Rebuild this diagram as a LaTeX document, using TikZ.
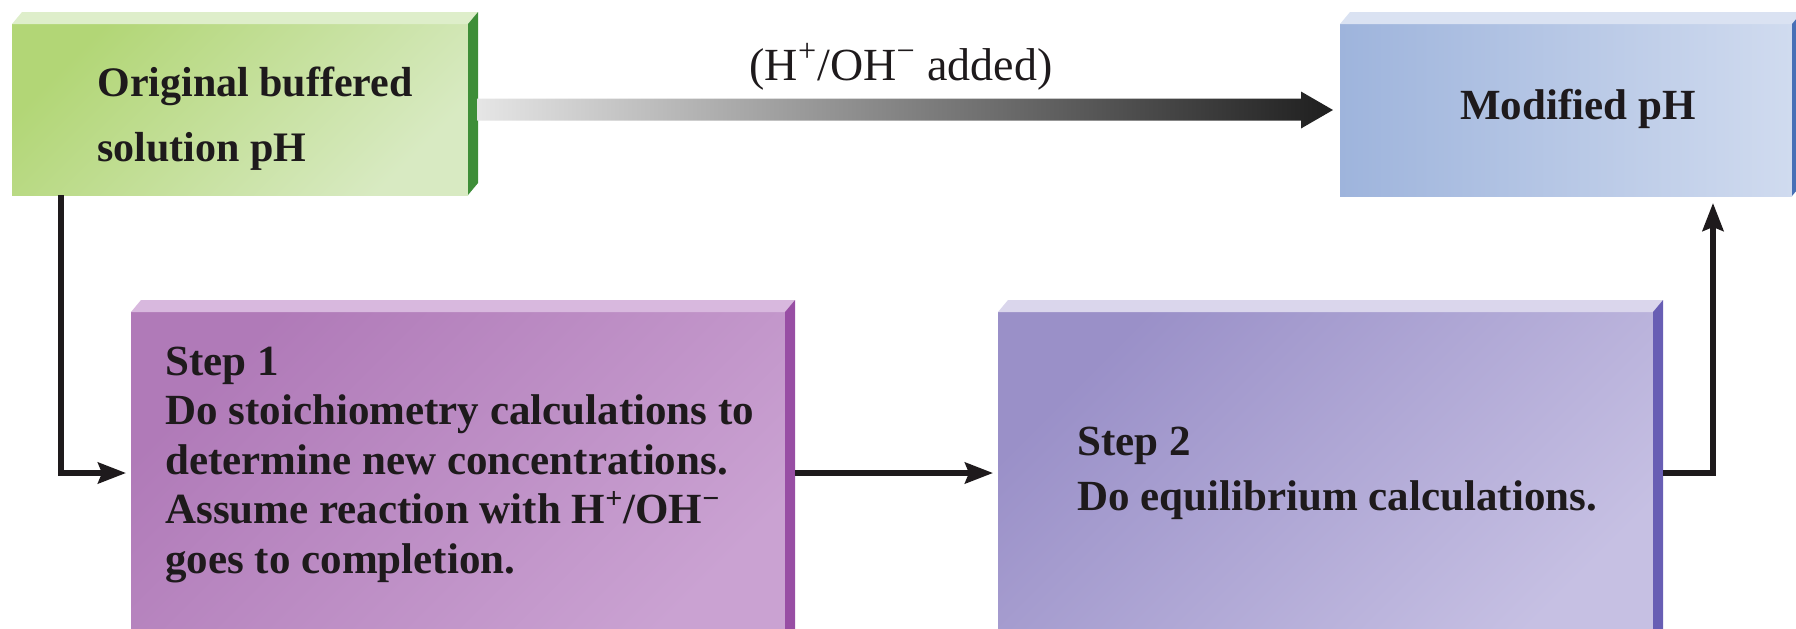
\documentclass[tikz,border=0pt]{standalone}
\usepackage{fontspec}
\setmainfont{Liberation Serif}
\usetikzlibrary{arrows.meta}
\definecolor{greenA}{RGB}{178,214,118}
\definecolor{greenB}{RGB}{216,234,194}
\definecolor{greenTop}{RGB}{222,238,202}
\definecolor{greenSide}{RGB}{62,142,56}
\definecolor{blueA}{RGB}{158,180,220}
\definecolor{blueB}{RGB}{208,219,239}
\definecolor{blueTop}{RGB}{218,226,242}
\definecolor{blueSide}{RGB}{72,112,182}
\definecolor{pinkA}{RGB}{176,122,184}
\definecolor{pinkB}{RGB}{202,162,210}
\definecolor{pinkTop}{RGB}{216,184,222}
\definecolor{pinkSide}{RGB}{152,78,164}
\definecolor{violetA}{RGB}{154,144,200}
\definecolor{violetB}{RGB}{198,192,227}
\definecolor{violetTop}{RGB}{218,214,236}
\definecolor{violetSide}{RGB}{104,94,180}
\definecolor{ink}{RGB}{30,26,28}
\newcommand\bevelbox[3]{%
  \fill[#2] (#1.north west) -- ++(10,-12) -- ([xshift=5pt,yshift=6pt]#1.north east) -- (#1.north east) -- cycle;
  \fill[#3] (#1.north east) -- ++(10,-12) -- ([xshift=5pt,yshift=6pt]#1.south east) -- (#1.south east) -- cycle;}
\begin{document}
\begin{tikzpicture}[x=0.5pt,y=-0.5pt,
  box/.style={rectangle, inner sep=0pt, outer sep=0pt, anchor=north west},
  boxtext/.style={anchor=base west, align=left, inner sep=0pt, text=ink,
    font=\fontsize{21.5}{24.75}\selectfont\bfseries},
  conn/.style={line width=2.6pt, draw=ink, line join=miter,
    -{Stealth[length=14pt,width=10.5pt,inset=2pt]}, shorten >=2.5pt},
]
\useasboundingbox (0,0) rectangle (1796,628);
\clip (0,0) rectangle (1796,628);

% boxes (front faces)
\node[box, minimum width=228pt, minimum height=85.5pt,
  left color=greenA, right color=greenB, shading angle=45] (orig) at (12,24) {};
\bevelbox{orig}{greenTop}{greenSide}
\node[box, minimum width=226pt, minimum height=86pt,
  left color=blueA, right color=blueB] (mod) at (1340,24) {};
\bevelbox{mod}{blueTop}{blueSide}
\node[box, minimum width=327pt, minimum height=170pt,
  left color=pinkA, right color=pinkB, shading angle=45] (step1) at (131,312) {};
\bevelbox{step1}{pinkTop}{pinkSide}
\node[box, minimum width=327.5pt, minimum height=170pt,
  left color=violetA, right color=violetB, shading angle=45] (step2) at (998,312) {};
\bevelbox{step2}{violetTop}{violetSide}

% texts (anchor base = baseline of the last line)
\node[boxtext, font=\fontsize{21}{32.5}\selectfont\bfseries] (origtxt) at (97,161)
  {Original buffered\\solution pH};
\node[boxtext, anchor=base] (modtxt) at (1578,119) {Modified pH};
\node[boxtext] (s1txt) at (165,573)
  {Step 1\\Do stoichiometry calculations to\\determine new concentrations.\\
   Assume reaction with H\textsuperscript{+}/OH\textsuperscript{−}\\goes to completion.};
\node[boxtext, font=\fontsize{21.5}{27.5}\selectfont\bfseries] (s2txt) at (1077,510)
  {Step 2\\Do equilibrium calculations.};
\node[anchor=base, inner sep=0pt, text=ink, font=\fontsize{23}{27}\selectfont] (addlbl) at (901,80)
  {(H\textsuperscript{+}/OH\textsuperscript{−} added)};

% gradient arrow orig -> mod
\coordinate (ga) at ([xshift=4.5pt]orig.east);
\coordinate (gb) at ([xshift=-3.5pt]mod.west);
\coordinate (gat) at ([yshift=5.5pt]ga);
\coordinate (gab) at ([yshift=-5.5pt]ga);
\coordinate (gh) at ([xshift=-16pt]gb);
\shade[left color=black!10, right color=black!88]
  (gat) -- (gh |- gat) -- ([yshift=9.25pt]gh) -- (gb) -- ([yshift=-9.25pt]gh)
  -- (gh |- gab) -- (gab) -- cycle;

% connectors
\coordinate (j1) at (61,473);
\coordinate (j2) at (1713,473);
\draw[conn] (orig.south -| j1) -- (j1) -- (j1 -| step1.west);
\draw[conn] ([xshift=5pt]step1.east |- j1) -- (j1 -| step2.west);
\draw[conn, shorten >=3.5pt] ([xshift=5pt]step2.east |- j2) -- (j2) -- (j2 |- mod.south);
\end{tikzpicture}
\end{document}
